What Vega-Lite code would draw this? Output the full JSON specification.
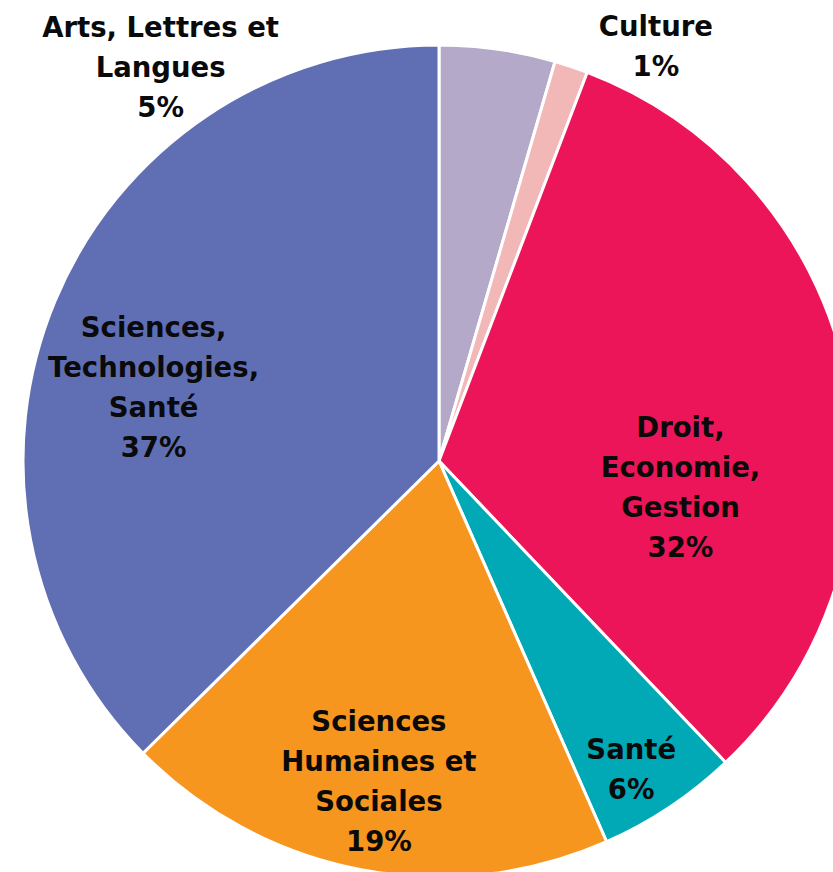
{
  "$schema": "https://vega.github.io/schema/vega-lite/v6.json",
  "width": 878,
  "height": 922,
  "padding": 0,
  "autosize": "none",
  "background": "white",
  "config": {"view": {"stroke": null}},
  "data": {
    "values": [
      {"cat": "Arts, Lettres et Langues", "value": 4.5, "label": "Arts, Lettres et\nLangues\n5%"},
      {"cat": "Culture", "value": 1.3, "label": "Culture\n1%"},
      {"cat": "Droit, Economie, Gestion", "value": 32.1, "label": "Droit,\nEconomie,\nGestion\n32%"},
      {"cat": "Santé", "value": 5.5, "label": "Santé\n6%"},
      {"cat": "Sciences Humaines et Sociales", "value": 19.2, "label": "Sciences\nHumaines et\nSociales\n19%"},
      {"cat": "Sciences, Technologies, Santé", "value": 37.4, "label": "Sciences,\nTechnologies,\nSanté\n37%"}
    ]
  },
  "encoding": {
    "theta": {"field": "value", "type": "quantitative", "stack": true}
  },
  "layer": [
    {
      "mark": {"type": "arc", "outerRadius": 416, "stroke": "white", "strokeWidth": 3},
      "encoding": {
        "color": {
          "field": "cat",
          "type": "nominal",
          "legend": null,
          "scale": {
            "domain": ["Arts, Lettres et Langues", "Culture", "Droit, Economie, Gestion", "Santé", "Sciences Humaines et Sociales", "Sciences, Technologies, Santé"],
            "range": ["#b4a9c8", "#f2b8b8", "#ed1559", "#00a9b5", "#f6961f", "#606fb3"]
          }
        }
      }
    },
    {
      "mark": {
        "type": "text",
        "font": "DejaVu Sans",
        "fontWeight": "bold",
        "fontSize": 27.5,
        "lineHeight": 40,
        "lineBreak": "\n",
        "align": "center",
        "baseline": "middle",
        "fill": "#0a0a0a",
        "radius": {"expr": "datum.cat === 'Arts, Lettres et Langues' ? 352 : datum.cat === 'Culture' ? 462 : datum.cat === 'Droit, Economie, Gestion' ? 232 : datum.cat === 'Santé' ? 363 : datum.cat === 'Sciences Humaines et Sociales' ? 326 : 292"},
        "dx": {"expr": "datum.cat === 'Arts, Lettres et Langues' ? -328 : datum.cat === 'Culture' ? 70 : datum.cat === 'Droit, Economie, Gestion' ? 14 : datum.cat === 'Santé' ? -9 : datum.cat === 'Sciences Humaines et Sociales' ? 1 : -16"},
        "dy": {"expr": "datum.cat === 'Arts, Lettres et Langues' ? -84 : datum.cat === 'Culture' ? 5 : datum.cat === 'Droit, Economie, Gestion' ? 14 : datum.cat === 'Santé' ? -12 : datum.cat === 'Sciences Humaines et Sociales' ? -58 : -19"}
      },
      "encoding": {
        "detail": {"field": "cat", "type": "nominal"},
        "text": {"field": "label", "type": "nominal"}
      }
    }
  ]
}
